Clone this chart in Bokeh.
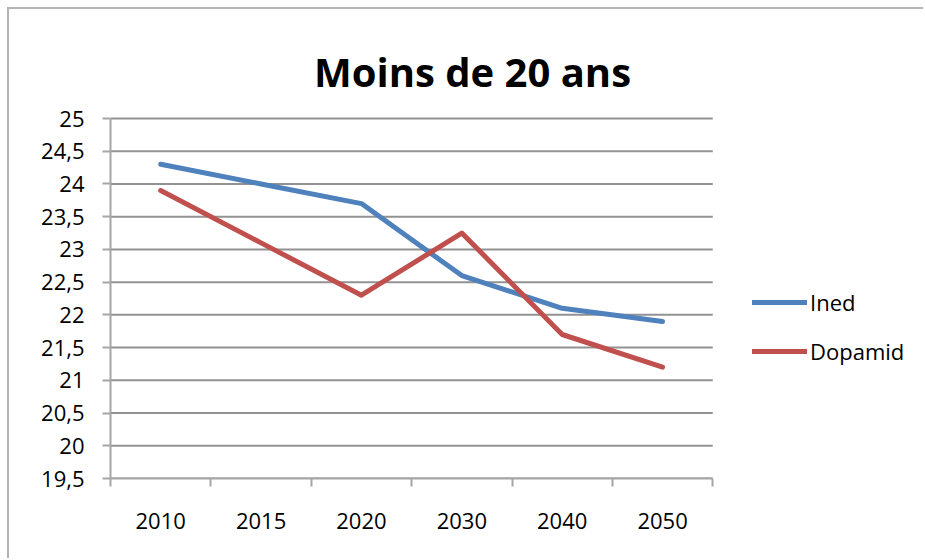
from bokeh.plotting import figure
from bokeh.models import (Range1d, FixedTicker, Legend, LegendItem, Label)
from bokeh.embed import file_html
from bokeh.resources import INLINE

# ---- data ----
years = ["2010", "2015", "2020", "2030", "2040", "2050"]
ined = [24.3, 24.0, 23.7, 22.6, 22.1, 21.9]
dopamid = [23.9, 23.1, 22.3, 23.25, 21.7, 21.2]
y_ticks = [19.5, 20, 20.5, 21, 21.5, 22, 22.5, 23, 23.5, 24, 24.5, 25]
y_tick_labels = ["19,5", "20", "20,5", "21", "21,5", "22", "22,5",
                 "23", "23,5", "24", "24,5", "25"]
title_text = "Moins de 20 ans"

FONT = "Open Sans"
n = len(years)
x_centers = [i + 0.5 for i in range(n)]
x_bounds = list(range(n + 1))
y_min, y_max = y_ticks[0], y_ticks[-1]

# layout (pixels)
W, H = 916, 551
MB_LEFT, MB_RIGHT, MB_TOP, MB_BOTTOM = 101, 12, 0, 82
PLOT_H = 360                      # height of the 19.5..25 value span
frame_h = H - MB_TOP - MB_BOTTOM  # frame also holds the title area above
y_top = y_min + (y_max - y_min) * frame_h / PLOT_H

p = figure(width=W, height=H, output_backend="svg", toolbar_location=None,
           x_range=Range1d(0, n + 2), y_range=Range1d(y_min, y_top),
           min_border_left=MB_LEFT, min_border_right=MB_RIGHT,
           min_border_top=MB_TOP, min_border_bottom=MB_BOTTOM)
p.styles = {"margin-left": "7px", "margin-top": "7px",
            "border-style": "solid", "border-color": "#b4b4b4",
            "border-width": "2px 0px 0px 2px"}
p.outline_line_color = None
p.background_fill_color = "white"
p.border_fill_color = "white"
p.xgrid.grid_line_color = None
p.ygrid.grid_line_color = None

# horizontal gridlines over the category span only
p.segment(x0=[0] * len(y_ticks), x1=[n] * len(y_ticks), y0=y_ticks, y1=y_ticks,
          line_color="#929292", line_width=2)

# lines
r_ined = p.line(x_centers, ined, line_color="#4F81BD", line_width=5,
                line_cap="round", line_join="round")
r_dop = p.line(x_centers, dopamid, line_color="#C0504D", line_width=5,
               line_cap="round", line_join="round")

# x axis: labels at centers, ticks at category boundaries
xa = p.xaxis[0]
xa.bounds = (0, n)
xa.ticker = FixedTicker(ticks=x_centers, minor_ticks=x_bounds)
xa.major_label_overrides = {c: y for c, y in zip(x_centers, years)}
xa.major_tick_line_color = None
xa.major_tick_out = 0
xa.major_tick_in = 0
xa.minor_tick_out = 8
xa.minor_tick_in = 0
xa.minor_tick_line_color = "#a6a6a6"
xa.minor_tick_line_width = 2
xa.axis_line_color = "#a6a6a6"
xa.axis_line_width = 2
xa.major_label_standoff = 26
xa.major_label_text_font = FONT
xa.major_label_text_font_size = "22px"
xa.major_label_text_color = "black"

# y axis
ya = p.yaxis[0]
ya.bounds = (y_min, y_max)
ya.ticker = FixedTicker(ticks=y_ticks)
ya.major_label_overrides = {t: l for t, l in zip(y_ticks, y_tick_labels)}
ya.minor_tick_line_color = None
ya.major_tick_out = 8
ya.major_tick_in = 0
ya.major_tick_line_color = "#a6a6a6"
ya.major_tick_line_width = 2
ya.axis_line_color = "#a6a6a6"
ya.axis_line_width = 2
ya.major_label_standoff = 18
ya.major_label_text_font = FONT
ya.major_label_text_font_size = "22px"
ya.major_label_text_color = "black"

# title (inside the extended frame, above the value span)
p.add_layout(Label(x=362, y=407, x_units="screen", y_units="screen",
                   text=title_text, text_font=FONT, text_font_style="bold",
                   text_font_size="40px", text_align="center",
                   text_baseline="alphabetic", text_color="black"))

# legend
legend = Legend(items=[LegendItem(label="Ined", renderers=[r_ined]),
                       LegendItem(label="Dopamid", renderers=[r_dop])],
                location=(642, 112), orientation="vertical",
                glyph_width=55, glyph_height=20, label_height=20,
                label_standoff=3, spacing=19, padding=0, margin=0,
                border_line_color=None, background_fill_alpha=0,
                label_text_font=FONT, label_text_font_size="22px",
                label_text_color="black")
p.add_layout(legend)

open("out.html", "w").write(file_html(p, INLINE))
